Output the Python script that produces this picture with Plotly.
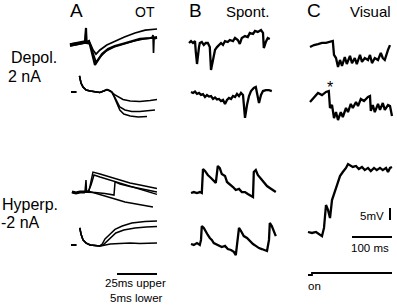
import plotly.graph_objects as go

W, H = 397, 305

# ---------------- data (time in ms, potential in mV) ----------------
# Panel A, Depol. 2 nA, upper (25 ms bar)
a_dep_up_t1 = [0, 3, 6, 9.4, 10, 10.3, 11.9, 13.1, 14.4, 15.6, 17.5, 20, 23.75, 28, 32.5, 37.5, 43.75, 50, 54.4]
a_dep_up_v1 = [-0.4, 0, 0.4, 0.8, 6.7, 0.8, 1.25, -1.7, -5.8, -8.75, -6.7, -4.2, -2.1, -0.8, 0, 0.8, 2.1, 2.5, 2.9]
a_dep_up_t2 = [0, 9.4, 10, 10.3, 12.5, 14.4, 16.25, 18.75, 23, 28, 34, 40.6, 47, 54.4]
a_dep_up_v2 = [0, 0.8, 5.8, 0.8, 0.4, -2.5, -4.2, -2.5, -0.4, 1.25, 2.9, 4.6, 5.8, 6.25]
a_dep_up_t3 = [0, 9.4, 12.5, 14.4, 16.25, 18.75, 22.5, 27.5, 33.75, 40, 46, 51.2, 51.9, 52.2, 52.5, 54.4]
a_dep_up_v3 = [-0.8, 0.4, 0, -4.2, -7.5, -5.4, -2.9, -1.25, 0, 1.25, 2.1, 2.5, 3.75, -3.75, 2.1, 2.5]

# Panel A, Depol. 2 nA, lower (5 ms bar)
a_dep_lo_dash_t = [0, 0.7]
a_dep_lo_dash_v = [0, 0]
a_dep_lo_common_t = [1.06, 1.25, 1.5, 1.9, 2.4, 3.0, 3.6, 4.1, 4.5, 4.9, 5.1]
a_dep_lo_common_v = [6.7, 3.75, 2.1, 0.8, 0.4, 0, -0.2, 0.4, 1.0, 0.4, 0]
a_dep_lo_ta = [5.5, 5.9, 6.5, 7.4, 8.6, 9.9, 10.75]
a_dep_lo_va = [-1.25, -2.1, -3.1, -3.75, -4.0, -3.5, -3.1]
a_dep_lo_tb = [5.4, 5.75, 6.1, 6.75, 7.6, 8.6, 9.6, 10.5]
a_dep_lo_vb = [-1.7, -4.2, -6.25, -7.5, -8.1, -8.1, -7.9, -7.5]
a_dep_lo_tc = [5.4, 5.75, 6.1, 6.6, 7.4, 8.4, 9.5]
a_dep_lo_vc = [-2.1, -5, -7.5, -9.2, -10, -10.4, -10.2]

# Panel A, Hyperp. -2 nA, upper (25 ms bar)
a_hyp_up_base_t = [0, 2.5, 5, 8.1]
a_hyp_up_base_v = [0, -0.4, 0, 0]
a_hyp_up_t1 = [8.75, 9.1, 10.6, 11.9, 13.1, 17.5, 23.75, 30, 36.25, 42.5, 48.75, 53.1]
a_hyp_up_v1 = [5, 0, 0.4, 5, 8.3, 7.5, 6.25, 5, 3.75, 2.9, 2.1, 1.5]
a_hyp_up_t2 = [10, 11.9, 13.75, 17.5, 23.75, 28.75, 36.25, 42.5, 48.75, 53.1]
a_hyp_up_v2 = [0, 2.9, 7.1, 6.25, 5, 3.75, 2.5, 1.25, 0, -1.0]
a_hyp_up_t3 = [11.25, 14.4, 20.6, 26.25, 26.9, 30, 36.25, 42.5, 48.75, 53.1]
a_hyp_up_v3 = [0, -0.2, -0.6, -1.25, 4.2, 3.3, 2.3, 1.5, 0.6, 0]
a_hyp_up_t4 = [10, 14.4, 20.6, 26.9, 33.1, 39.4, 45.6, 50.6]
a_hyp_up_v4 = [0.4, -0.4, -1.7, -2.9, -4.2, -5, -5.8, -6.25]

# Panel A, Hyperp. -2 nA, lower (5 ms bar)
a_hyp_lo_dash_t = [0, 0.7]
a_hyp_lo_dash_v = [0, 0]
a_hyp_lo_common_t = [1.1, 1.25, 1.5, 1.9, 2.4, 3.0, 3.6]
a_hyp_lo_common_v = [7.1, 4.6, 2.1, 0.8, 0, -0.2, -0.4]
a_hyp_lo_ta = [3.9, 4.25, 4.9, 5.5, 6.4, 7.6, 9.25, 10.75]
a_hyp_lo_va = [0.4, 2.5, 4.6, 6.5, 7.9, 9.2, 9.8, 10]
a_hyp_lo_tb = [4.0, 4.4, 4.9, 5.6, 6.6, 8.0, 9.4, 10.75]
a_hyp_lo_vb = [0, 1.25, 3.1, 5, 6.25, 7.1, 7.5, 7.7]
a_hyp_lo_tc = [4.0, 4.9, 6.1, 7.4, 8.6, 10.75]
a_hyp_lo_vc = [-0.2, 0.4, 0.6, 0.8, 0.6, 0.8]

# Panel B, Spont., Depol.
b_dep_up_t = [0, 5, 10, 15, 17, 20, 25, 27, 32, 37, 42, 47, 52, 55, 60, 65, 70, 75, 80, 85, 90, 97,
              102, 110, 115, 122, 127, 132, 140, 147, 152, 160, 165, 172, 180, 185, 187, 192, 197, 202]
b_dep_up_v = [0, 0.8, 0, 0.8, -3.75, -8.75, -1.7, 0, 0.4, -0.8, 0, 0, -1.7, -11.25, -7.1, -2.9, -1.7,
              -0.8, 0, -0.8, 0.8, 0.4, 1.25, 0.8, 2.1, 1.25, -0.4, 2.1, 2.9, 2.5, 4.2, 3.75, 5, 4.6,
              5.4, 4.2, -2.1, 0.4, 2.1, 1.7]
b_dep_lo_t = [0, 5, 10, 15, 20, 25, 30, 35, 40, 45, 50, 55, 60, 65, 70, 75, 80, 85, 90, 95, 100, 105,
              110, 115, 120, 125, 130, 132, 135, 140, 145, 150, 157, 162, 165, 170, 175, 180, 187, 195, 202]
b_dep_lo_v = [0, -0.4, 0.2, -0.8, -0.4, -1.2, -0.9, -2.1, -1.25, -1.9, -1.7, -2.9, -2.3, -3.1, -2.9,
              -3.75, -3.3, -5, -3.3, -2.5, -2.9, -1.7, -2.1, -0.8, -1.7, -0.4, -1.25, -5.4, -10.8, -5.4,
              -1.7, 0.4, 1.7, 2.1, -0.8, -4.6, -1.25, 0.4, 0.8, 0.8, 0.4]

# Panel B, Spont., Hyperp.
b_hyp_up_t = [0, 7, 15, 22, 27, 30, 35, 42, 50, 57, 62, 67, 72, 77, 85, 90, 97, 105, 112, 120, 127,
              135, 142, 150, 155, 157, 162, 167, 175, 182, 190, 197, 205, 212]
b_hyp_up_v = [0, 0.4, 0, 0.4, 0, 10, 9.2, 7.5, 6.25, 5, 4.2, 11.25, 10.4, 7.9, 7.1, 4.6, 3.75, 2.5,
              1.25, 1.7, 0.4, 0.4, -0.4, -1.25, -1.7, 8.75, 9.6, 7.5, 5.8, 4.2, 2.9, 2.1, 1.25, 0.4]
b_hyp_lo_t = [0, 7, 15, 22, 25, 27, 32, 37, 42, 47, 52, 57, 62, 70, 77, 85, 92, 100, 107, 112, 117,
              120, 125, 132, 140, 147, 155, 162, 170, 177, 185, 190, 195, 197, 202, 207, 212]
b_hyp_lo_v = [0, -0.4, 0.4, -0.4, 1.7, 7.5, 6.7, 5, 3.75, 2.5, 1.7, 0.4, 0, -0.4, -1.25, -0.8, -2.1,
              -2.5, -3.3, -4.6, 1.7, 6.7, 5.4, 3.3, 2.5, 1.25, 0, -0.8, -1.7, -2.1, -2.5, -2.9, 1.7,
              8.75, 7.5, 5.4, 3.3]

# Panel C, Visual, Depol.
c_dep_up_t = [0, 10, 20, 30, 40, 50, 57, 60, 65, 70, 75, 80, 87, 92, 100, 105, 112, 117, 125, 130,
              137, 145, 150, 155, 162, 170, 177, 182, 187, 195, 200]
c_dep_up_v = [0, 0.8, 1.2, 1.7, 1.7, 2.1, 2.5, -3.3, -4.6, -8.3, -5.4, -7.9, -4.2, -7.1, -3.7, -6.7,
              -4.6, -7.1, -3.3, -6.2, -4.6, -5.4, -3.3, -6.7, -4.6, -5.4, -2.5, -4.6, -5.4, -1.2, 0.8]
c_dep_lo_t = [0, 10, 20, 30, 40, 47, 50, 55, 60, 65, 70, 77, 82, 90, 95, 102, 107, 115, 120, 127, 135,
              145, 150, 152, 157, 162, 170, 175, 182, 187, 195, 200, 205]
c_dep_lo_v = [0, 2.1, 3.75, 2.9, 4.2, 4.6, -2.5, -1.25, -6.7, -4.2, -7.5, -4.2, -6.25, -2.5, -4.2,
              -0.8, -2.5, 0, -1.7, 1.25, 0.4, 2.1, 2.5, -3.75, -1.25, -4.2, -0.8, -3.3, -0.4, -3.3,
              -1.25, -1.7, -5.8]

# Panel C, Visual, Hyperp.
c_hyp_t = [0, 10, 20, 30, 35, 40, 45, 50, 55, 60, 65, 70, 75, 80, 87, 95, 100, 105, 112, 120, 127,
           135, 142, 150, 157, 165, 172, 180, 187, 195, 200, 205, 210]
c_hyp_v = [0, -0.4, 0, -1.25, -1.7, 1.7, 11.25, 9.2, 5.8, 13.3, 16.25, 18.3, 20.8, 23.3, 25, 26.7,
           28.3, 27.9, 27.1, 27.5, 26.25, 27.1, 25.8, 26.7, 25.4, 26.7, 25.8, 26.7, 25.8, 26.7, 25,
           26.7, 27.1]

# stimulus marker (visual "on")
stim_t = [0, 10, 10, 210]
stim_v = [0, 0, 1, 1]

# scale bars
bar_a_ms = [5.75, 10.75]      # 25 ms upper / 5 ms lower
bar_c_ms = [110, 210]         # 100 ms
bar_c_mv = [5, 10]            # 5 mV

# ---------------- layout helpers ----------------
fig = go.Figure()
n_axes = [0]


def new_axes(ox, oy, sx, sy):
    """Overlaying axes filling the figure; (ox, oy) px is the data origin, sx/sy px per unit."""
    n_axes[0] += 1
    i = n_axes[0]
    sfx = "" if i == 1 else str(i)
    fig.layout["xaxis" + sfx] = dict(domain=[0, 1], range=[-ox / sx, (W - ox) / sx],
                                      visible=False, anchor="y" + sfx, fixedrange=True)
    fig.layout["yaxis" + sfx] = dict(domain=[0, 1], range=[-(H - oy) / sy, oy / sy],
                                      visible=False, anchor="x" + sfx, fixedrange=True)
    return "x" + sfx, "y" + sfx


def line(ax, t, v, w=1.6):
    fig.add_trace(go.Scatter(x=t, y=v, mode="lines", xaxis=ax[0], yaxis=ax[1],
                             line=dict(color="black", width=w), hoverinfo="skip",
                             showlegend=False))


SY = 2.4
ax_a1 = new_axes(70, 44, 1.6, SY)
ax_a2 = new_axes(71, 92, 8.0, SY)
ax_a3 = new_axes(72, 192, 1.6, SY)
ax_a4 = new_axes(71, 245, 8.0, SY)
ax_b1 = new_axes(189, 43, 0.4, SY)
ax_b2 = new_axes(191, 92, 0.4, SY)
ax_b3 = new_axes(191, 193, 0.4, SY)
ax_b4 = new_axes(191, 244, 0.4, SY)
ax_c1 = new_axes(310, 47, 0.4, SY)
ax_c2 = new_axes(310, 102, 0.4, SY)
ax_c3 = new_axes(308, 232, 0.4, SY)
ax_st = new_axes(308, 275, 0.4, 2.0)

# A depol upper
line(ax_a1, a_dep_up_t1, a_dep_up_v1, 2.2)
line(ax_a1, a_dep_up_t2, a_dep_up_v2, 1.7)
line(ax_a1, a_dep_up_t3, a_dep_up_v3, 1.7)
line(ax_a1, a_dep_up_t1[:4], a_dep_up_v1[:4], 3.5)
# A depol lower
line(ax_a2, a_dep_lo_dash_t, a_dep_lo_dash_v, 2.0)
for tt, vv in [(a_dep_lo_ta, a_dep_lo_va), (a_dep_lo_tb, a_dep_lo_vb), (a_dep_lo_tc, a_dep_lo_vc)]:
    line(ax_a2, a_dep_lo_common_t + tt, a_dep_lo_common_v + vv, 1.5)
# A hyperp upper
line(ax_a3, a_hyp_up_base_t, a_hyp_up_base_v, 3.0)
line(ax_a3, a_hyp_up_base_t + a_hyp_up_t1, a_hyp_up_base_v + a_hyp_up_v1, 1.5)
line(ax_a3, a_hyp_up_base_t + a_hyp_up_t2, a_hyp_up_base_v + a_hyp_up_v2, 1.5)
line(ax_a3, a_hyp_up_base_t + a_hyp_up_t3, a_hyp_up_base_v + a_hyp_up_v3, 1.5)
line(ax_a3, a_hyp_up_base_t + a_hyp_up_t4, a_hyp_up_base_v + a_hyp_up_v4, 1.5)
# A hyperp lower
line(ax_a4, a_hyp_lo_dash_t, a_hyp_lo_dash_v, 2.0)
for tt, vv in [(a_hyp_lo_ta, a_hyp_lo_va), (a_hyp_lo_tb, a_hyp_lo_vb), (a_hyp_lo_tc, a_hyp_lo_vc)]:
    line(ax_a4, a_hyp_lo_common_t + tt, a_hyp_lo_common_v + vv, 1.5)
line(ax_a4, bar_a_ms, [-12.1, -12.1], 2.0)

# B
line(ax_b1, b_dep_up_t, b_dep_up_v, 2.3)
line(ax_b2, b_dep_lo_t, b_dep_lo_v, 2.3)
line(ax_b3, b_hyp_up_t, b_hyp_up_v, 2.3)
line(ax_b4, b_hyp_lo_t, b_hyp_lo_v, 2.3)

# C
line(ax_c1, c_dep_up_t, c_dep_up_v, 2.3)
line(ax_c2, c_dep_lo_t, c_dep_lo_v, 2.3)
line(ax_c3, c_hyp_t, c_hyp_v, 2.3)
line(ax_c3, [205, 205], bar_c_mv, 2.0)
line(ax_c3, bar_c_ms, [-2.1, -2.1], 2.0)
line(ax_st, stim_t, stim_v, 1.8)

# ---------------- text ----------------
FONT = "Liberation Sans, Arial, sans-serif"


def label(txt, px, py, size, xanchor="left", yanchor="middle"):
    fig.add_annotation(text=txt, x=px / W, y=1 - py / H, xref="paper", yref="paper",
                       showarrow=False, xanchor=xanchor, yanchor=yanchor, borderpad=0,
                       font=dict(family=FONT, size=size, color="black"))


label("A", 69, 11, 19)
label("OT", 134, 12, 14)
label("B", 188, 11, 19)
label("Spont.", 225, 12, 15)
label("C", 306, 11, 19)
label("Visual", 349, 12, 15)
label("Depol.", 10, 57, 16)
label("2 nA", 7, 76, 16)
label("Hyperp.", 1, 204, 16)
label("-2 nA", 0, 222, 16)
label("25ms upper", 135, 283, 11.5, "center")
label("5ms lower", 136, 305, 11.5, "center", "bottom")
label("5mV", 385, 216, 11.5, "right")
label("100 ms", 370, 248, 11.5, "center")
label("on", 307, 286, 11.5)
label("*", 330, 88, 16, "center")

fig.update_layout(width=W, height=H, margin=dict(l=0, r=0, t=0, b=0),
                  paper_bgcolor="white", plot_bgcolor="rgba(0,0,0,0)")
fig.write_html("out.html", config={"displayModeBar": False, "staticPlot": True},
               post_script="document.body.style.margin='0px';")
